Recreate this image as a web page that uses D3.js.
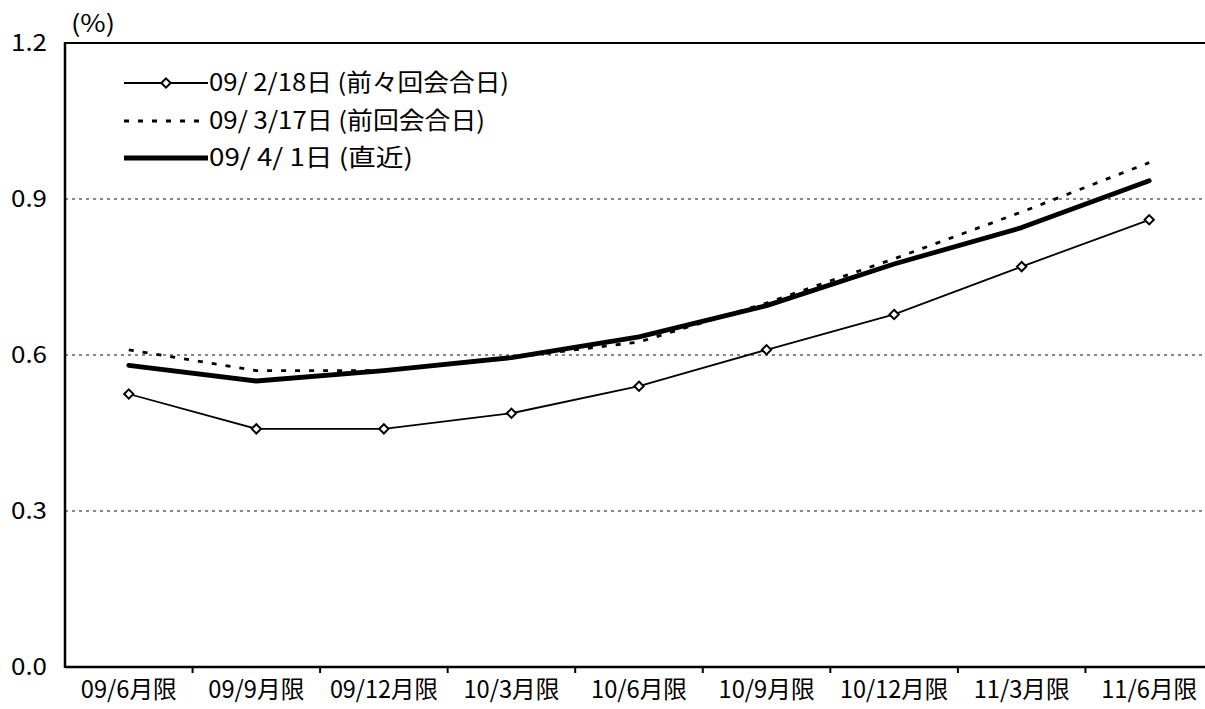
<!DOCTYPE html>
<html>
<head>
<meta charset="utf-8">
<script src="https://cdn.jsdelivr.net/npm/d3@7"></script>
<style>
  html, body { margin: 0; padding: 0; background: #fff; }
  svg { display: block; }
  text { font-family: "Noto Sans CJK JP", "Noto Sans", sans-serif; fill: #000; }
</style>
</head>
<body>
<svg id="chart" width="1205" height="709"></svg>
<script>
// Contract months (x categories)
const categories = ["09/6月限", "09/9月限", "09/12月限", "10/3月限", "10/6月限",
                    "10/9月限", "10/12月限", "11/3月限", "11/6月限"];

// Implied rates (%) observed on each date
const seriesFeb18 = [0.525, 0.458, 0.458, 0.488, 0.540, 0.610, 0.678, 0.770, 0.860];
const seriesMar17 = [0.610, 0.570, 0.570, 0.595, 0.625, 0.700, 0.785, 0.875, 0.970];
const seriesApr01 = [0.580, 0.550, 0.570, 0.595, 0.635, 0.695, 0.775, 0.845, 0.935];

const legendLabels = ["09/ 2/18日 (前々回会合日)", "09/ 3/17日 (前回会合日)", "09/ 4/ 1日 (直近)"];
const yTickValues = [0, 0.3, 0.6, 0.9, 1.2];
const yTickLabels = ["0.0", "0.3", "0.6", "0.9", "1.2"];
const unitLabel = "(%)";

const svg = d3.select("#chart");
const FS = 24;               // font size; half-width glyph = FS/2, full-width = FS

// Width of a string set in a fixed-pitch Japanese face
function pitchWidth(s) {
  let w = 0;
  for (const ch of s) w += (ch.charCodeAt(0) < 0x2E80 ? 0.5 : 1) * FS;
  return w;
}
function fitText(sel) {
  sel.attr("textLength", function() { return pitchWidth(d3.select(this).text()); })
     .attr("lengthAdjust", "spacingAndGlyphs");
}

const plot = { left: 65, right: 1213, top: 43, bottom: 667 };

const x = d3.scaleBand().domain(categories).range([plot.left, plot.right]);
const y = d3.scaleLinear().domain([0, 1.2]).range([plot.bottom, plot.top]);
const cx = d => x(d) + x.bandwidth() / 2;

// Dotted horizontal gridlines
svg.append("g").selectAll("line")
  .data(yTickValues.filter(v => v > 0 && v < 1.2))
  .join("line")
  .attr("x1", plot.left).attr("x2", plot.right)
  .attr("y1", d => y(d)).attr("y2", d => y(d))
  .attr("stroke", "#111").attr("stroke-width", 1)
  .attr("stroke-dasharray", "3,4");

// Top border
svg.append("line")
  .attr("x1", plot.left).attr("x2", plot.right)
  .attr("y1", y(1.2)).attr("y2", y(1.2))
  .attr("stroke", "#000").attr("stroke-width", 2);

// Left axis line
svg.append("line")
  .attr("x1", plot.left).attr("x2", plot.left)
  .attr("y1", y(1.2) - 1).attr("y2", y(0) + 1)
  .attr("stroke", "#000").attr("stroke-width", 2.5);

// Bottom axis with category separators as tick marks
const xAxis = d3.axisBottom(x).tickSize(0).tickFormat("");
const gx = svg.append("g").attr("transform", `translate(0,${y(0)})`).call(xAxis);
gx.select(".domain").attr("stroke", "#000").attr("stroke-width", 2.5)
  .attr("d", `M${plot.left},0H${plot.right}`);
gx.selectAll(".tick").remove();
gx.selectAll("line.sep")
  .data(categories.slice(1))
  .join("line")
  .attr("class", "sep")
  .attr("x1", d => x(d)).attr("x2", d => x(d))
  .attr("y1", 0).attr("y2", 6)
  .attr("stroke", "#000").attr("stroke-width", 2);

// Category labels
svg.append("g").selectAll("text")
  .data(categories)
  .join("text")
  .attr("x", d => cx(d))
  .attr("y", 698)
  .attr("text-anchor", "middle")
  .attr("font-size", FS)
  .text(d => d)
  .call(fitText);

// Y tick labels
svg.append("g").selectAll("text")
  .data(yTickValues)
  .join("text")
  .attr("x", 47)
  .attr("y", d => y(d) + 8)
  .attr("text-anchor", "end")
  .attr("font-size", FS)
  .text((d, i) => yTickLabels[i])
  .call(fitText);

// Unit label
svg.append("text")
  .attr("x", 71).attr("y", 32)
  .attr("font-size", 24)
  .text(unitLabel)
  .attr("textLength", 44).attr("lengthAdjust", "spacingAndGlyphs");

const line = d3.line().x((d, i) => cx(categories[i])).y(d => y(d));

// 09/3/17: dashed
svg.append("path")
  .datum(seriesMar17)
  .attr("d", line)
  .attr("fill", "none").attr("stroke", "#000")
  .attr("stroke-width", 2.8).attr("stroke-dasharray", "5,9");

// 09/2/18: thin line with diamond markers
svg.append("path")
  .datum(seriesFeb18)
  .attr("d", line)
  .attr("fill", "none").attr("stroke", "#000").attr("stroke-width", 1.8);

const diamond = d3.symbol().type(d3.symbolDiamond2).size(55);
svg.append("g").selectAll("path")
  .data(seriesFeb18)
  .join("path")
  .attr("transform", (d, i) => `translate(${cx(categories[i])},${y(d)})`)
  .attr("d", diamond)
  .attr("fill", "#fff").attr("stroke", "#000").attr("stroke-width", 2);

// 09/4/1: thick
svg.append("path")
  .datum(seriesApr01)
  .attr("d", line)
  .attr("fill", "none").attr("stroke", "#000")
  .attr("stroke-width", 4.8).attr("stroke-linejoin", "round").attr("stroke-linecap", "round");

// Legend
const legend = svg.append("g");
const legendY = [83, 121, 158];
const lx0 = 124, lx1 = 208;

legend.append("line")
  .attr("x1", lx0).attr("x2", lx1).attr("y1", legendY[0]).attr("y2", legendY[0])
  .attr("stroke", "#000").attr("stroke-width", 1.8);
legend.append("path")
  .attr("transform", `translate(${(lx0 + lx1) / 2},${legendY[0]})`)
  .attr("d", diamond)
  .attr("fill", "#fff").attr("stroke", "#000").attr("stroke-width", 2);

legend.append("line")
  .attr("x1", lx0).attr("x2", lx1).attr("y1", legendY[1]).attr("y2", legendY[1])
  .attr("stroke", "#000").attr("stroke-width", 2.8).attr("stroke-dasharray", "5,9");

legend.append("line")
  .attr("x1", lx0).attr("x2", lx1).attr("y1", legendY[2]).attr("y2", legendY[2])
  .attr("stroke", "#000").attr("stroke-width", 4.8);

legend.selectAll("text")
  .data(legendLabels)
  .join("text")
  .attr("x", lx1 + 1)
  .attr("y", (d, i) => legendY[i] + 8)
  .attr("font-size", FS)
  .text(d => d)
  .call(fitText);
</script>
</body>
</html>
